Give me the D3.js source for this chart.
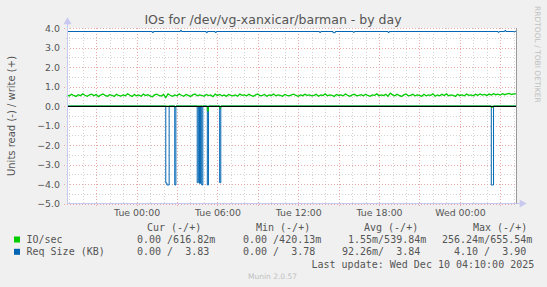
<!DOCTYPE html>
<html>
<head>
<meta charset="utf-8">
<script src="https://cdn.jsdelivr.net/npm/d3@7/dist/d3.min.js"></script>
<style>
body { margin: 0; background: #f0f0f0; }
svg text { font-family: "DejaVu Sans", sans-serif; }
.mono { font-family: "DejaVu Sans Mono", monospace; white-space: pre; }
</style>
</head>
<body>
<script>
// time window of the graph
var startTime = "2025-12-08 18:50"
var endTime = "2025-12-10 04:10"
var stepMinutes = 10

// IO/sec, write side (+), one value per 10 minutes from startTime
var ioWrite = [
  0.57,0.51,0.60,0.54,0.49,0.58,0.53,0.62,0.55,0.50,0.57,0.61,
  0.53,0.59,0.48,0.56,0.62,0.54,0.50,0.58,0.55,0.49,0.60,0.54,
  0.51,0.57,0.53,0.63,0.55,0.49,0.59,0.52,0.57,0.50,0.61,0.54,
  0.58,0.52,0.47,0.57,0.61,0.54,0.51,0.59,0.43,0.62,0.55,0.50,
  0.57,0.52,0.61,0.55,0.50,0.59,0.54,0.49,0.57,0.61,0.52,0.57,
  0.55,0.50,0.59,0.53,0.57,0.48,0.61,0.54,0.59,0.52,0.56,0.50,
  0.59,0.54,0.52,0.57,0.50,0.61,0.55,0.57,0.52,0.60,0.54,0.50,
  0.57,0.62,0.52,0.55,0.59,0.50,0.57,0.54,0.61,0.52,0.57,0.54,
  0.50,0.59,0.55,0.52,0.57,0.61,0.54,0.50,0.57,0.53,0.60,0.55,
  0.57,0.52,0.55,0.60,0.50,0.57,0.54,0.62,0.52,0.57,0.55,0.49,
  0.59,0.54,0.57,0.52,0.61,0.55,0.50,0.57,0.60,0.52,0.55,0.58,
  0.52,0.60,0.54,0.50,0.57,0.55,0.62,0.52,0.57,0.54,0.60,0.50,
  0.655,0.57,0.52,0.60,0.54,0.49,0.57,0.62,0.52,0.55,0.60,0.52,
  0.57,0.54,0.50,0.60,0.52,0.57,0.55,0.62,0.50,0.57,0.52,0.60,
  0.54,0.62,0.52,0.57,0.55,0.49,0.60,0.54,0.57,0.52,0.61,0.55,
  0.57,0.52,0.60,0.55,0.62,0.56,0.59,0.54,0.61,0.56,0.63,0.58,
  0.61,0.56,0.63,0.58,0.62,0.64,0.59,0.62,0.617
]

// IO/sec, read side (-): value holds from its time until the next entry
var ioRead = [
  ["2025-12-08 18:50", 0], ["2025-12-09 02:50", -0.05], ["2025-12-09 02:55", 0],
  ["2025-12-09 05:15", -0.26], ["2025-12-09 05:20", 0], ["2025-12-09 06:10", -0.12],
  ["2025-12-09 06:15", 0], ["2025-12-10 02:20", -0.08], ["2025-12-10 02:25", 0],
  ["2025-12-10 04:10", 0]
]

// Req Size (KB), write side (+)
var reqWrite = [
  ["2025-12-08 18:50", 3.82], ["2025-12-09 01:10", 3.77], ["2025-12-09 01:15", 3.82],
  ["2025-12-09 03:15", 3.88], ["2025-12-09 03:20", 3.82], ["2025-12-09 05:10", 3.76],
  ["2025-12-09 05:15", 3.82], ["2025-12-09 05:50", 3.77], ["2025-12-09 05:55", 3.82],
  ["2025-12-09 13:35", 3.77], ["2025-12-09 13:40", 3.82], ["2025-12-09 14:35", 3.76],
  ["2025-12-09 14:45", 3.82], ["2025-12-09 16:05", 3.78], ["2025-12-09 16:10", 3.82],
  ["2025-12-09 18:40", 3.77], ["2025-12-09 18:45", 3.82], ["2025-12-10 02:50", 3.78],
  ["2025-12-10 02:55", 3.82], ["2025-12-10 03:20", 3.87], ["2025-12-10 03:25", 3.82],
  ["2025-12-10 04:00", 3.80], ["2025-12-10 04:05", 3.83], ["2025-12-10 04:10", 3.83]
]

// Req Size (KB), read side (-)
var reqRead = [
  ["2025-12-08 18:50", 0], ["2025-12-09 02:10", -3.95], ["2025-12-09 02:15", -4.05],
  ["2025-12-09 02:25", 0], ["2025-12-09 02:50", -4.05], ["2025-12-09 02:55", 0],
  ["2025-12-09 04:30", -3.93], ["2025-12-09 04:35", 0], ["2025-12-09 04:40", -3.97],
  ["2025-12-09 04:45", 0], ["2025-12-09 04:50", -4.05], ["2025-12-09 04:55", 0],
  ["2025-12-09 05:15", -4.05], ["2025-12-09 05:20", 0], ["2025-12-09 06:10", -3.93],
  ["2025-12-09 06:15", 0], ["2025-12-10 02:20", -4.05], ["2025-12-10 02:30", 0],
  ["2025-12-10 04:10", 0]
]

var yTicks = [-5, -4, -3, -2, -1, 0, 1, 2, 3, 4]

var legendHead = ["Cur (-/+)", "Min (-/+)", "Avg (-/+)", "Max (-/+)"]
var legendRows = [
  {name: "IO/sec", color: "#00cc00", vals: ["0.00 /616.82m", "0.00 /420.13m", "1.55m/539.84m", "256.24m/655.54m"]},
  {name: "Req Size (KB)", color: "#0066b3", vals: ["0.00 /  3.83", "0.00 /  3.78", "92.26m/  3.84", "4.10 /  3.90"]}
]

var parse = d3.timeParse("%Y-%m-%d %H:%M")
var t0 = parse(startTime), t1 = parse(endTime)

var plotL = 67, plotR = 516, plotT = 28, plotB = 203.5

var x = d3.scaleTime().domain([t0, t1]).range([plotL, plotR])
var y = d3.scaleLinear().domain([-5, 4]).range([plotB, plotT])

var svg = d3.select("body").append("svg")
    .attr("width", 547).attr("height", 287)

svg.append("rect").attr("width", 547).attr("height", 287).attr("fill", "#f0f0f0")
svg.append("rect")
    .attr("x", plotL).attr("y", plotT)
    .attr("width", plotR - plotL).attr("height", plotB - plotT)
    .attr("fill", "#ffffff")

// grid lines
var grid = svg.append("g").attr("shape-rendering", "crispEdges")

var hours = d3.timeHour.range(d3.timeHour.ceil(t0), t1)
hours.forEach(function(h) {
  var major = h.getHours() % 3 == 0
  grid.append("line")
      .attr("x1", Math.round(x(h)) + 0.5).attr("x2", Math.round(x(h)) + 0.5)
      .attr("y1", plotT).attr("y2", plotB + (major ? 3 : 1))
      .attr("stroke", major ? "#e8a8a8" : "#d4d4d4")
      .attr("stroke-dasharray", "1,2")
})

var halfTicks = d3.range(-10, 9).map(function(v) { return v / 2 })
halfTicks.forEach(function(v) {
  var major = Number.isInteger(v)
  grid.append("line")
      .attr("x1", plotL - (major ? 3 : 1)).attr("x2", plotR)
      .attr("y1", Math.round(y(v)) + 0.5).attr("y2", Math.round(y(v)) + 0.5)
      .attr("stroke", major ? "#e8a8a8" : "#d4d4d4")
      .attr("stroke-dasharray", "1,2")
})

// axes
var yAxis = d3.axisLeft(y).tickValues(yTicks).tickSize(0).tickPadding(7)
    .tickFormat(d3.format(".1f"))
var gy = svg.append("g").attr("transform", "translate(" + plotL + ",0)").call(yAxis)
gy.select(".domain").remove()
gy.selectAll("text").attr("fill", "#555").style("font-size", "9.4px")

var xAxis = d3.axisBottom(x)
    .tickValues(hours.filter(function(h) { return h.getHours() % 6 == 0 }))
    .tickSize(0).tickPadding(6)
    .tickFormat(d3.timeFormat("%a %H:%M"))
var gx = svg.append("g").attr("transform", "translate(0," + plotB + ")").call(xAxis)
gx.select(".domain").remove()
gx.selectAll("text").attr("fill", "#555").style("font-size", "9.4px")

// data lines
var seriesTime = function(i) { return d3.timeMinute.offset(t0, i * stepMinutes) }

var line = d3.line()
    .x(function(d, i) { return x(seriesTime(i)) })
    .y(function(d) { return y(d) })

var stepLine = d3.line()
    .x(function(d) { return x(parse(d[0])) })
    .y(function(d) { return y(d[1]) })
    .curve(d3.curveStepAfter)

svg.append("path").attr("d", stepLine(reqRead))
    .attr("fill", "none").attr("stroke", "#0066b3").attr("stroke-width", 1)
svg.append("path").attr("d", stepLine(reqWrite))
    .attr("fill", "none").attr("stroke", "#0066b3").attr("stroke-width", 1)

svg.append("path").attr("d", line(ioWrite))
    .attr("fill", "none").attr("stroke", "#00cc00").attr("stroke-width", 1.3)
svg.append("path").attr("d", stepLine(ioRead))
    .attr("fill", "none").attr("stroke", "#00cc00").attr("stroke-width", 1)

// zero line
svg.append("line")
    .attr("x1", plotL).attr("x2", plotR)
    .attr("y1", Math.round(y(0)) + 0.5).attr("y2", Math.round(y(0)) + 0.5)
    .attr("stroke", "#000").attr("stroke-width", 1)

// frame and axis arrows
svg.append("line").attr("x1", plotL + 0.5).attr("x2", plotL + 0.5)
    .attr("y1", plotT - 5).attr("y2", plotB)
    .attr("stroke", "#c8c8f0").attr("stroke-width", 1)
svg.append("path").attr("d", d3.symbol(d3.symbolTriangle, 28)())
    .attr("transform", "translate(" + (plotL + 0.5) + "," + (plotT - 6) + ")")
    .attr("fill", "#c8c8f0")
svg.append("line").attr("x1", plotL).attr("x2", plotR + 4)
    .attr("y1", plotB).attr("y2", plotB)
    .attr("stroke", "#c8c8f0").attr("stroke-width", 1)
svg.append("path").attr("d", d3.symbol(d3.symbolTriangle, 28)())
    .attr("transform", "translate(" + (plotR + 6) + "," + plotB + ") rotate(90)")
    .attr("fill", "#c8c8f0")
svg.append("line").attr("x1", plotR + 0.5).attr("x2", plotR + 0.5)
    .attr("y1", plotT).attr("y2", plotB)
    .attr("stroke", "#999").attr("stroke-width", 1)

// titles
svg.append("text")
    .attr("x", 273).attr("y", 24)
    .attr("text-anchor", "middle")
    .attr("fill", "#555")
    .style("font-size", "12.5px")
    .text("IOs for /dev/vg-xanxicar/barman - by day")

svg.append("text")
    .attr("transform", "translate(15,116) rotate(-90)")
    .attr("text-anchor", "middle")
    .attr("fill", "#555")
    .style("font-size", "10px")
    .text("Units read (-) / write (+)")

svg.append("text")
    .attr("transform", "translate(535,6) rotate(90)")
    .attr("fill", "#c0c0c0")
    .style("font-size", "7.5px")
    .text("RRDTOOL / TOBI OETIKER")

// legend
var headX = [147, 256, 364, 473]
var valX = [137, 243, 348, 442]
var rowVal2X = [137, 243, 342, 454]

legendHead.forEach(function(h, i) {
  svg.append("text").attr("class", "mono")
      .attr("x", headX[i]).attr("y", 231)
      .attr("fill", "#555").style("font-size", "10px")
      .text(h)
})

legendRows.forEach(function(r, j) {
  var yy = 243 + j * 12.3
  svg.append("rect").attr("x", 14).attr("y", yy - 6.5)
      .attr("width", 6).attr("height", 6).attr("fill", r.color)
  svg.append("text").attr("class", "mono")
      .attr("x", 26.5).attr("y", yy)
      .attr("fill", "#555").style("font-size", "10px")
      .text(r.name)
  r.vals.forEach(function(v, i) {
    svg.append("text").attr("class", "mono")
        .attr("x", (j == 0 ? valX : rowVal2X)[i]).attr("y", yy)
        .attr("fill", "#555").style("font-size", "10px")
        .text(v)
  })
})

svg.append("text").attr("class", "mono")
    .attr("x", 311.5).attr("y", 267.6)
    .attr("fill", "#555").style("font-size", "10px")
    .text("Last update: Wed Dec 10 04:10:00 2025")

svg.append("text")
    .attr("x", 248).attr("y", 279)
    .attr("fill", "#c0c0c0")
    .style("font-size", "7.5px")
    .text("Munin 2.0.57")
</script>
</body>
</html>
